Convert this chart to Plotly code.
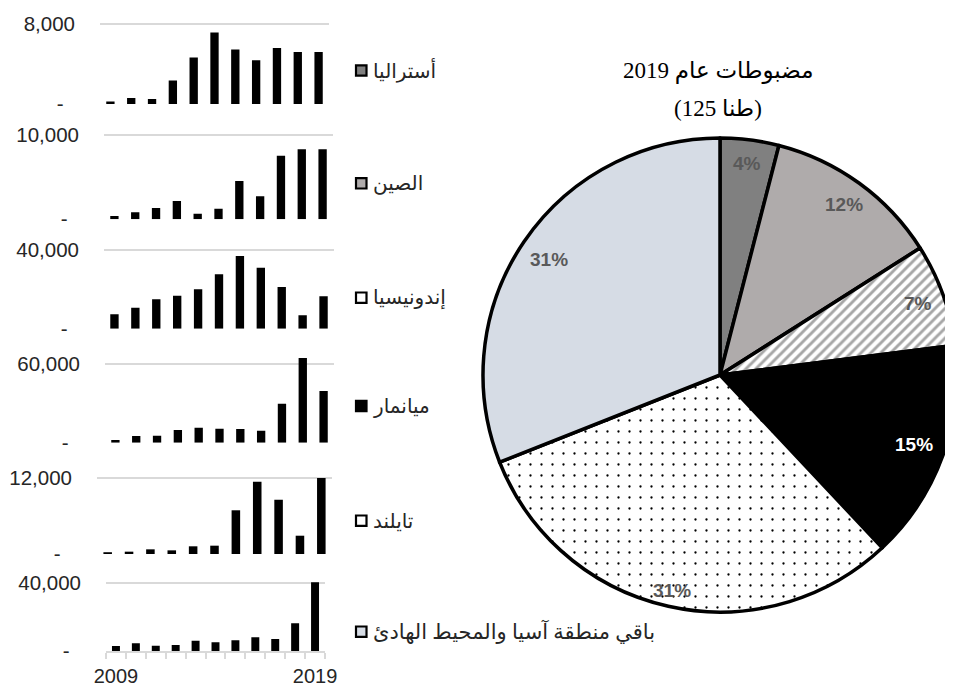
import plotly.graph_objects as go
import math

W, H = 953, 685

# ---------------- data ----------------
years = [str(y) for y in range(2009, 2020)]
countries = ["أستراليا", "الصين", "إندونيسيا", "ميانمار", "تايلند", "باقي منطقة آسيا والمحيط الهادئ"]

australia = [250, 600, 500, 2370, 4670, 7170, 5470, 4400, 5630, 5230, 5230]
china = [390, 830, 1350, 2180, 670, 1260, 4560, 2740, 7570, 8330, 8330]
indonesia = [7320, 10670, 14940, 16770, 20020, 27650, 36950, 31000, 21190, 6810, 16470]
myanmar = [2070, 5130, 5360, 9730, 11500, 10730, 10500, 9200, 29890, 64900, 39600]
thailand = [270, 370, 740, 580, 1220, 1320, 6930, 11460, 8610, 2900, 12050]
rest = [2930, 4490, 3120, 3510, 6050, 5070, 6250, 8000, 7030, 16200, 40200]
series = [australia, china, indonesia, myanmar, thailand, rest]
axis_max = [8000, 10000, 40000, 60000, 12000, 40000]
axis_max_labels = ["8,000", "10,000", "40,000", "60,000", "12,000", "40,000"]

pie_share = [4, 12, 7, 15, 31, 31]
title_line1 = "مضبوطات عام 2019"
title_line2 = "(125 طنا)"

# ---------------- styles / layout geometry (page pixels) ----------------
OFF = 8  # page body margin in the viewer
grid_top = [24.3, 135.3, 250.0, 364.3, 478.3, 582.7]
baseline = [104.0, 219.3, 328.7, 442.7, 554.0, 651.0]
x_left = [100, 104, 104, 105, 97, 106]
x_right = [329, 333, 334, 334, 332, 325]
legend_y = [70.5, 183.3, 297.7, 406.0, 520.7, 631.7]
legend_fill = ["#808080", "#afabab", "#ffffff", "#000000", "#ffffff", "#d6dce5"]
legend_size = [20, 20, 20, 20, 20, 21]

pie_colors = ["#808080", "#afabab", "#ffffff", "#000000", "#ffffff", "#d6dce5"]
pie_shapes = ["", "", "/", "", ".", ""]
pie_fg = ["#808080", "#afabab", "#a6a6a6", "#000000", "#000000", "#d6dce5"]
pie_label_color = ["#595959", "#595959", "#595959", "#ffffff", "#595959", "#595959"]
pie_label_r = [0.9, 0.89, 0.89, 0.87, 0.93, 0.87]
pie_cx, pie_cy, pie_r = 720, 375, 237

TXT = "#262626"
GRID = "#d9d9d9"
SANS = "Arial, Liberation Sans, DejaVu Sans, sans-serif"
SERIF = "Times New Roman, Liberation Serif, DejaVu Sans, serif"

fig = go.Figure()

def px_x(v):
    return (v - OFF) / W

def px_y(v):
    return 1 - (v - OFF) / H

headroom = 1.12
for i, vals in enumerate(series):
    n = i + 1
    xa = "x" if n == 1 else f"x{n}"
    ya = "y" if n == 1 else f"y{n}"
    fig.add_trace(go.Bar(
        x=years, y=vals, xaxis=xa, yaxis=ya,
        marker=dict(color="#000000", line=dict(width=0)),
        showlegend=False, hoverinfo="x+y",
    ))
    span = baseline[i] - grid_top[i]
    top_px = baseline[i] - span * headroom
    ydom = [px_y(baseline[i]), px_y(top_px)]
    xdom = [px_x(x_left[i]), px_x(x_right[i])]
    last = (i == len(series) - 1)
    xkw = dict(
        domain=xdom, type="category", anchor=ya,
        showgrid=False, zeroline=False, fixedrange=True, automargin=False,
        tickfont=dict(family=SANS, size=20, color=TXT), tickangle=0,
    )
    if last:
        xkw.update(
            showline=True, linecolor=GRID, linewidth=1.5,
            ticks="outside", tickson="boundaries", ticklen=6, tickcolor=GRID, tickwidth=1.5,
            tickmode="array", tickvals=years,
            ticktext=[years[0]] + [""] * (len(years) - 2) + [years[-1]],
            showticklabels=True, ticklabelstandoff=6,
        )
    else:
        xkw.update(showline=False, ticks="", showticklabels=False)
    layout_x = "xaxis" if n == 1 else f"xaxis{n}"
    layout_y = "yaxis" if n == 1 else f"yaxis{n}"
    fig.layout[layout_x] = xkw
    fig.layout[layout_y] = dict(
        domain=ydom, anchor=xa, range=[0, axis_max[i] * headroom],
        tickmode="array", tickvals=[0, axis_max[i]],
        ticktext=["-\u00a0\u00a0", axis_max_labels[i]],
        showgrid=True, gridcolor=GRID, gridwidth=1.5,
        zeroline=False, showline=False, ticks="", automargin=False,
        ticklabelstandoff=24,
        tickfont=dict(family=SANS, size=20.5, color=TXT), fixedrange=True,
    )

# legend-like entries for the small multiples
for i, name in enumerate(countries):
    cy = legend_y[i]
    fig.add_shape(type="rect", xref="paper", yref="paper",
                  x0=px_x(356), x1=px_x(366.5), y0=px_y(cy + 5.2), y1=px_y(cy - 5.2),
                  line=dict(color="#000000", width=2.2), fillcolor=legend_fill[i])
    fig.add_annotation(x=px_x(371), y=px_y(cy), xref="paper", yref="paper",
                       text=name, showarrow=False, xanchor="left", yanchor="middle",
                       font=dict(family=SERIF, size=legend_size[i], color=TXT))

# pie
fig.add_trace(go.Pie(
    values=pie_share, labels=countries, sort=False, direction="clockwise", rotation=0,
    textinfo="none", showlegend=False,
    domain=dict(x=[px_x(pie_cx - pie_r), min(1, px_x(pie_cx + pie_r))],
                y=[px_y(pie_cy + pie_r), px_y(pie_cy - pie_r)]),
    marker=dict(colors=pie_colors, line=dict(color="#000000", width=3.5),
                pattern=dict(shape=pie_shapes, fgcolor=pie_fg, bgcolor=pie_colors,
                             size=[8, 8, 7, 8, 11, 8], solidity=[0.3, 0.3, 0.42, 0.3, 0.035, 0.3],
                             fillmode="replace")),
))

total = sum(pie_share)
cum = 0
for i, v in enumerate(pie_share):
    mid = (cum + v / 2) / total * 2 * math.pi
    cum += v
    r = pie_r * pie_label_r[i]
    lx = pie_cx + r * math.sin(mid)
    ly = pie_cy - r * math.cos(mid)
    fig.add_annotation(x=px_x(lx), y=px_y(ly), xref="paper", yref="paper",
                       text=f"<b>{v}%</b>", showarrow=False,
                       xanchor="center", yanchor="middle",
                       font=dict(family=SANS, size=19, color=pie_label_color[i]))

fig.add_annotation(x=px_x(718), y=px_y(71), xref="paper", yref="paper",
                   text=title_line1, showarrow=False, xanchor="center", yanchor="middle",
                   font=dict(family=SERIF, size=23, color="#000000"))
fig.add_annotation(x=px_x(718), y=px_y(108), xref="paper", yref="paper",
                   text=title_line2, showarrow=False, xanchor="center", yanchor="middle",
                   font=dict(family=SERIF, size=23, color="#000000"))

fig.update_layout(
    width=W, height=H, margin=dict(l=0, r=0, t=0, b=0),
    paper_bgcolor="#ffffff", plot_bgcolor="rgba(0,0,0,0)",
    bargap=0.6,
)

fig.write_html("out.html")
